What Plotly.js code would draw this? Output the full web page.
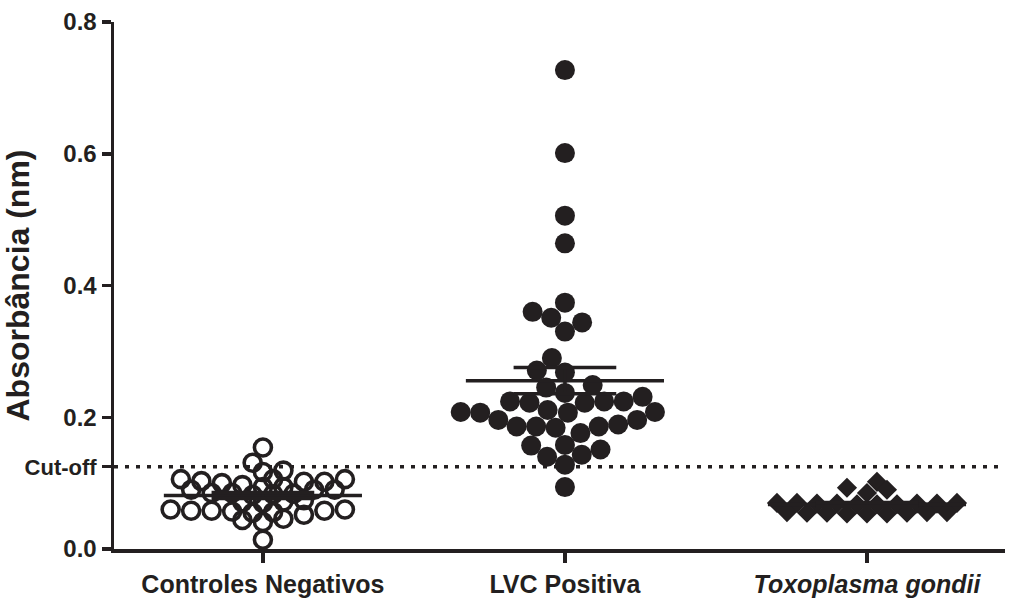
<!DOCTYPE html>
<html>
<head>
<meta charset="utf-8">
<script src="https://cdn.plot.ly/plotly-3.0.1.min.js"></script>
<style>html,body{margin:0;padding:0;background:#fff;}#chart{width:1009px;height:604px;}</style>
</head>
<body>
<div id="chart"></div>
<script>
// ---------- data ----------
const categories = ['Controles Negativos', 'LVC Positiva', 'Toxoplasma gondii'];
const tickLabels = ['Controles Negativos', 'LVC Positiva', '<i>Toxoplasma gondii</i>'];

const controlesNegativos = [
  0.154, 0.131, 0.119, 0.117,
  0.106, 0.103, 0.102, 0.106, 0.106, 0.102, 0.100,
  0.097, 0.094, 0.094,
  0.090, 0.090, 0.090,
  0.085, 0.083, 0.084, 0.085, 0.082,
  0.074, 0.072, 0.071, 0.070,
  0.060, 0.057, 0.058, 0.055, 0.058, 0.058, 0.060, 0.056,
  0.052, 0.044, 0.041, 0.046, 0.014
];
const lvcPositiva = [
  0.727, 0.601, 0.506, 0.464, 0.374, 0.351, 0.360, 0.344, 0.330, 0.290,
  0.268, 0.271, 0.231, 0.245, 0.237, 0.249, 0.224, 0.207, 0.224, 0.196,
  0.208, 0.208, 0.207, 0.211, 0.222, 0.222, 0.224, 0.186, 0.186, 0.176,
  0.184, 0.186, 0.189, 0.196, 0.158, 0.151, 0.140, 0.128, 0.143, 0.157,
  0.094
];
const toxoplasmaGondii = [
  0.102, 0.090, 0.085, 0.093,
  0.070, 0.069, 0.070, 0.068, 0.069, 0.068, 0.070, 0.069, 0.068, 0.069,
  0.056, 0.055, 0.056, 0.054, 0.056, 0.054, 0.055, 0.055, 0.054
];
const cutOff = 0.125;
const yTickValues = [0, 0.2, 0.4, 0.6, 0.8];
const yTickLabels = ['0.0', '0.2', '0.4', '0.6', '0.8'];

// ---------- geometry ----------
const W = 1009, H = 604;
const margin = {l: 114, r: 4, t: 22, b: 55};
const xRange = [-0.493, 2.457];
const yRange = [0, 0.8];
const pxPerX = (W - margin.l - margin.r) / (xRange[1] - xRange[0]);
const pxPerY = (H - margin.t - margin.b) / (yRange[1] - yRange[0]);

// classic beeswarm (circular collision)
function swarm(values, center, diam) {
  const order = values.map((v, i) => i).sort((a, b) => values[a] - values[b]);
  const placed = [];
  const xs = new Array(values.length);
  let toggle = false;
  order.forEach(i => {
    const y = values[i] * pxPerY;
    const forb = [];
    placed.forEach(p => {
      const dy = Math.abs(p.y - y);
      if (dy < diam) {
        const dx = Math.sqrt(diam * diam - dy * dy);
        forb.push([p.x - dx, p.x + dx]);
      }
    });
    const cands = [0];
    forb.forEach(f => cands.push(f[0], f[1]));
    let best = null, tie = false;
    cands.forEach(c => {
      if (forb.some(f => c > f[0] + 1e-6 && c < f[1] - 1e-6)) return;
      if (best === null || Math.abs(c) < Math.abs(best) - 1e-6) { best = c; tie = false; }
      else if (Math.abs(Math.abs(c) - Math.abs(best)) < 1e-6 && Math.abs(c - best) > 1e-6) {
        tie = true; best = toggle ? Math.max(c, best) : Math.min(c, best);
      }
    });
    if (tie) toggle = !toggle;
    placed.push({x: best, y: y});
    xs[i] = center + best / pxPerX;
  });
  return xs;
}

// grid swarm: x slots every half step; neighbours one slot apart need dy >= vr1,
// points in the same slot need dy >= vr2, two slots apart never collide
function gridSwarm(values, center, step, vr1, vr2) {
  const half = step / 2;
  const order = values.map((v, i) => i).sort((a, b) => values[a] - values[b]);
  const placed = [];
  const xs = new Array(values.length);
  let toggle = false;
  order.forEach(i => {
    const y = values[i] * pxPerY;
    const ok = k => placed.every(p => {
      const dk = Math.abs(p.k - k), dy = Math.abs(p.y - y);
      if (dk === 0) return dy >= vr2;
      if (dk === 1) return dy >= vr1;
      return true;
    });
    let chosen = null;
    for (let m = 0; m < 60 && chosen === null; m++) {
      if (m === 0) { if (ok(0)) chosen = 0; continue; }
      const a = ok(-m), b = ok(m);
      if (a && b) { chosen = toggle ? m : -m; toggle = !toggle; }
      else if (a) chosen = -m;
      else if (b) chosen = m;
    }
    placed.push({k: chosen, y: y});
    xs[i] = center + (chosen * half) / pxPerX;
  });
  return xs;
}

function meanSem(arr) {
  const n = arr.length;
  const m = arr.reduce((a, b) => a + b, 0) / n;
  const sd = Math.sqrt(arr.reduce((a, b) => a + (b - m) * (b - m), 0) / (n - 1));
  return {m: m, s: sd / Math.sqrt(n)};
}

const groups = [controlesNegativos, lvcPositiva, toxoplasmaGondii];
const xPositions = [
  gridSwarm(controlesNegativos, 0, 20.5, 6, 14),
  swarm(lvcPositiva, 1, 19.5),
  gridSwarm(toxoplasmaGondii, 2, 20, 6, 12)
];
const symbols = ['circle-open', 'circle', 'diamond'];
const sizes = [17, 20, 15.5];
const lineW = [3.6, 0, 0];

const traces = [];
groups.forEach((g, gi) => {
  traces.push({
    type: 'scatter', mode: 'markers', name: categories[gi],
    x: xPositions[gi], y: g,
    cliponaxis: false,
    marker: {symbol: symbols[gi], size: sizes[gi], color: '#231f20',
             line: {color: '#231f20', width: lineW[gi]}},
    hoverinfo: 'y', showlegend: false
  });
});

const lx = [], ly = [];
groups.forEach((g, gi) => {
  const st = meanSem(g);
  const hw = 0.328, cw = 0.17;
  lx.push(gi - hw, gi + hw, null); ly.push(st.m, st.m, null);
  lx.push(gi, gi, null); ly.push(st.m - st.s, st.m + st.s, null);
  lx.push(gi - cw, gi + cw, null); ly.push(st.m + st.s, st.m + st.s, null);
  lx.push(gi - cw, gi + cw, null); ly.push(st.m - st.s, st.m - st.s, null);
});
traces.push({type: 'scatter', mode: 'lines', x: lx, y: ly, line: {color: '#231f20', width: 3.5},
             hoverinfo: 'skip', showlegend: false, cliponaxis: false});

const font = {family: '"Liberation Sans", Arial, sans-serif', color: '#231f20'};

const layout = {
  width: W, height: H, margin: margin,
  paper_bgcolor: '#fff', plot_bgcolor: '#fff',
  showlegend: false,
  xaxis: {
    range: xRange, tickvals: [0, 1, 2], ticktext: tickLabels,
    showgrid: false, zeroline: false, showline: true, linecolor: '#231f20', linewidth: 3.5,
    ticks: 'outside', ticklen: 10, tickwidth: 3.5, tickcolor: '#231f20',
    tickfont: Object.assign({}, font, {size: 25, weight: 'bold'}), fixedrange: true
  },
  yaxis: {
    range: yRange,
    tickvals: yTickValues.concat([cutOff]),
    ticktext: yTickLabels.concat(['<span style="font-size:22px">Cut-off</span>']),
    showgrid: false, zeroline: false, showline: true, linecolor: '#231f20', linewidth: 3.5,
    ticks: 'outside', ticklen: 9, tickwidth: 3.5, tickcolor: '#231f20',
    tickfont: Object.assign({}, font, {size: 24, weight: 'bold'}),
    title: {text: 'Absorbância (nm)', font: Object.assign({}, font, {size: 32, weight: 'bold'}), standoff: 9},
    fixedrange: true
  },
  shapes: [{
    type: 'line', xref: 'paper', yref: 'y', x0: 0, x1: 1, y0: cutOff, y1: cutOff,
    line: {color: '#231f20', width: 3.5, dash: '4px,7px'}, layer: 'below'
  }]
};

Plotly.newPlot('chart', traces, layout, {staticPlot: true, displayModeBar: false});
</script>
</body>
</html>
